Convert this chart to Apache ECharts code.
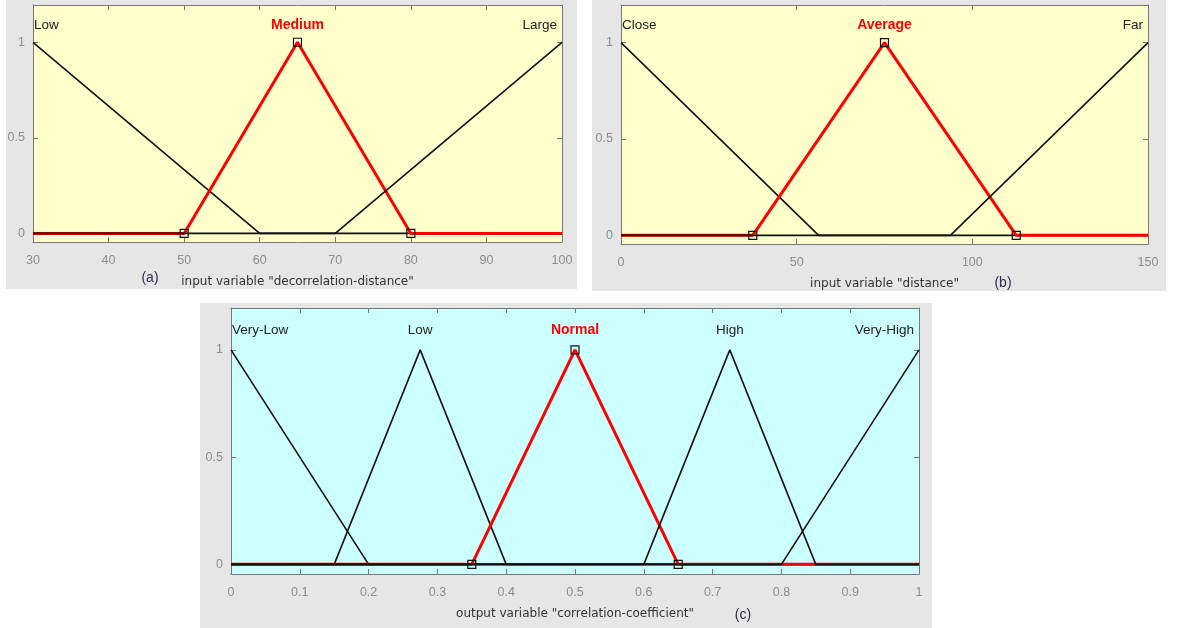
<!DOCTYPE html>
<html><head><meta charset="utf-8">
<script src="https://cdn.jsdelivr.net/npm/echarts@6/dist/echarts.min.js"></script>
<style>html,body{margin:0;padding:0;background:#fff}#c{width:1179px;height:628px}</style>
</head><body><div id="c"></div>
<script>
// ---- data ----
const aRange = [30, 100];
const aInterval = 10;
const aNames = ['Low', 'Medium', 'Large'];
const aParams = [[30, 30, 60], [50, 65, 80], [70, 100, 100]];
const aSelected = 1;

const bRange = [0, 150];
const bInterval = 50;
const bNames = ['Close', 'Average', 'Far'];
const bParams = [[0, 0, 56.25], [37.5, 75, 112.5], [93.75, 150, 150]];
const bSelected = 1;

const cRange = [0, 1];
const cInterval = 0.1;
const cNames = ['Very-Low', 'Low', 'Normal', 'High', 'Very-High'];
const cParams = [[0, 0, 0.2], [0.15, 0.275, 0.4], [0.35, 0.5, 0.65], [0.6, 0.725, 0.85], [0.8, 1, 1]];
const cSelected = 2;

const yTickValues = [0, 0.5, 1];
const yLimits = [-0.045, 1.195];

// ---- helpers ----
const FONT = 'Liberation Sans, Arial, sans-serif';
const TFONT = 'DejaVu Sans, sans-serif';
const LABEL_Y = 1.09;
function mfPoints(p, r) {
  const [a, b, c] = p, pts = [];
  if (a > r[0]) pts.push([r[0], 0]);
  if (a < b) pts.push([a, 0]);
  pts.push([b, 1]);
  if (c > b) pts.push([c, 0]);
  if (c < r[1]) pts.push([r[1], 0]);
  return pts;
}
function fmtX(v) { return String(+v.toFixed(2)); }

const panels = [
  {range: aRange, interval: aInterval, names: aNames, params: aParams, sel: aSelected,
   grid: {left: 33, top: 5, width: 529, height: 237}, bg: '#ffffcc',
   title: 'input variable "decorrelation-distance"'},
  {range: bRange, interval: bInterval, names: bNames, params: bParams, sel: bSelected,
   grid: {left: 621, top: 5, width: 527, height: 239}, bg: '#ffffcc',
   title: 'input variable "distance"'},
  {range: cRange, interval: cInterval, names: cNames, params: cParams, sel: cSelected,
   grid: {left: 231, top: 308, width: 688, height: 266}, bg: '#ccffff',
   title: 'output variable "correlation-coefficient"'}
];

const AXC = '#777777';
const grids = [], xAxes = [], yAxes = [], series = [];
panels.forEach((P, i) => {
  grids.push(Object.assign({show: true, backgroundColor: P.bg, borderWidth: 0, containLabel: false}, P.grid));
  const xBase = {
    type: 'value', gridIndex: i, min: P.range[0], max: P.range[1], interval: P.interval,
    splitLine: {show: false},
    axisLine: {show: true, onZero: false, lineStyle: {color: AXC, width: 1}},
    axisTick: {show: true, inside: true, length: 5, lineStyle: {color: AXC}}
  };
  xAxes.push(Object.assign({}, xBase, {
    position: 'bottom',
    axisLabel: {show: true, margin: 12, color: '#8c8c8c', fontSize: 12.5, fontFamily: FONT, formatter: fmtX},
    name: P.title, nameLocation: 'middle', nameGap: 34,
    nameTextStyle: {color: '#333333', fontSize: 12, fontFamily: TFONT}
  }));
  xAxes.push(Object.assign({}, xBase, {position: 'top', axisLabel: {show: false}}));
  const yBase = {
    type: 'value', gridIndex: i, min: yLimits[0], max: yLimits[1],
    splitLine: {show: false},
    axisLine: {show: true, onZero: false, lineStyle: {color: AXC, width: 1}},
    axisTick: {show: true, inside: true, length: 5, customValues: yTickValues, lineStyle: {color: AXC}}
  };
  yAxes.push(Object.assign({}, yBase, {
    position: 'left',
    axisLabel: {show: true, margin: 8, color: '#8c8c8c', fontSize: 12.5, fontFamily: FONT,
      customValues: yTickValues, formatter: v => String(+v.toFixed(2))}
  }));
  yAxes.push(Object.assign({}, yBase, {position: 'right', axisLabel: {show: false}}));

  P.params.forEach((p, j) => {
    const isSel = j === P.sel;
    series.push({
      type: 'line', xAxisIndex: 2 * i, yAxisIndex: 2 * i, data: mfPoints(p, P.range),
      symbol: 'none', silent: true, animation: false, z: 2,
      lineStyle: {color: isSel ? '#ff0000' : '#111111', width: isSel ? 3 : 1.6}
    });
  });
  const sp = P.params[P.sel];
  series.push({
    type: 'scatter', xAxisIndex: 2 * i, yAxisIndex: 2 * i, z: 5, animation: false,
    symbol: 'rect', symbolSize: 8, silent: true,
    itemStyle: {color: 'rgba(0,0,0,0)', borderColor: '#111', borderWidth: 1.2, opacity: 1},
    data: [[sp[0], 0], [sp[1], 1], [sp[2], 0]]
  });
  series.push({
    type: 'scatter', xAxisIndex: 2 * i, yAxisIndex: 2 * i, z: 6, animation: false,
    symbolSize: 1, itemStyle: {color: 'rgba(0,0,0,0)', opacity: 1}, silent: true,
    data: P.names.map((n, j) => {
      const x = P.params[j][1];
      let align = 'center', off = 0;
      if (x === P.range[0]) { align = 'left'; off = 1; }
      else if (x === P.range[1]) { align = 'right'; off = -5; }
      const isSel = j === P.sel;
      return {value: [x, LABEL_Y], label: {
        show: true, position: 'inside', align: align, offset: [off, 0],
        formatter: n, fontFamily: FONT, fontSize: isSel ? 14 : 13.5,
        fontWeight: isSel ? 'bold' : 'normal', color: isSel ? '#ff0000' : '#222222'
      }};
    })
  });
});

const chart = echarts.init(document.getElementById('c'), null, {renderer: 'canvas'});
chart.setOption({
  backgroundColor: '#ffffff',
  animation: false,
  graphic: [
    {type: 'rect', z: -100, silent: true, shape: {x: 6, y: 0, width: 571, height: 289}, style: {fill: '#e6e6e6'}},
    {type: 'rect', z: -100, silent: true, shape: {x: 592, y: 0, width: 574, height: 291}, style: {fill: '#e6e6e6'}},
    {type: 'rect', z: -100, silent: true, shape: {x: 200, y: 303, width: 732, height: 325}, style: {fill: '#e6e6e6'}},
    {type: 'text', z: 10, silent: true, x: 150, y: 278, style: {text: '(a)', fill: '#2f2f4f', font: '14px Liberation Sans, Arial, sans-serif', align: 'center', verticalAlign: 'middle'}},
    {type: 'text', z: 10, silent: true, x: 1003, y: 283, style: {text: '(b)', fill: '#2f2f4f', font: '14px Liberation Sans, Arial, sans-serif', align: 'center', verticalAlign: 'middle'}},
    {type: 'text', z: 10, silent: true, x: 743, y: 615, style: {text: '(c)', fill: '#2f2f4f', font: '14px Liberation Sans, Arial, sans-serif', align: 'center', verticalAlign: 'middle'}}
  ],
  grid: grids, xAxis: xAxes, yAxis: yAxes, series: series
});
</script></body></html>
